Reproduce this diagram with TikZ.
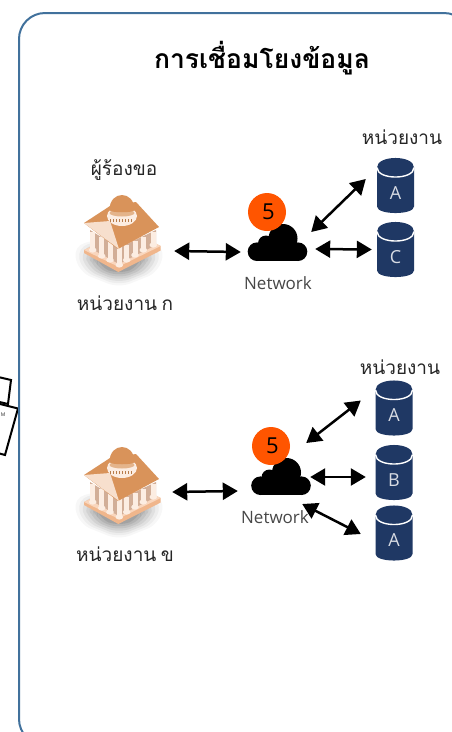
\documentclass[tikz,border=0pt]{standalone}
\usepackage{fontspec}
\usetikzlibrary{arrows.meta}
\newfontfamily\thaifont[Script=Thai]{Loma}
\setmainfont{Open Sans}
\definecolor{panelblue}{HTML}{41719C}
\definecolor{navy}{HTML}{1F3864}
\definecolor{badge}{HTML}{FF5500}
\definecolor{roofc}{HTML}{D9935A}
\definecolor{pedc}{HTML}{F7DFCD}
\definecolor{colc}{HTML}{FCEDE2}
\definecolor{basec}{HTML}{F0B68C}
\definecolor{basetop}{HTML}{F9D6BD}
\definecolor{wallc}{HTML}{D2AE97}
\definecolor{textc}{HTML}{262626}
\tikzset{
  x=1pt,y=-1pt,
  panel/.style={draw=panelblue,line width=2pt,rounded corners=26pt,fill=white},
  biarrow/.style={draw=black,line width=2.5pt,{Triangle[length=15pt,width=17pt]}-{Triangle[length=15pt,width=17pt]}},
  thaitext/.style={font=\thaifont\fontsize{19}{22}\selectfont,text=textc,inner sep=0pt},
  titletext/.style={font=\thaifont\bfseries\fontsize{26.5}{30}\selectfont,text=black,inner sep=0pt},
  nettext/.style={font=\fontsize{17}{20}\selectfont,text=textc!85,inner sep=0pt},
  dbbox/.style={inner sep=0pt,minimum width=37pt,minimum height=55pt,text=white!82!navy,font=\fontsize{18}{20}\selectfont},
  cloudbox/.style={inner sep=0pt,minimum width=60pt,minimum height=37pt},
  bldgbox/.style={inner sep=0pt,minimum width=78pt,minimum height=86pt},
  badgenode/.style={circle,fill=badge,minimum size=38pt,inner sep=0pt,text=black,font=\fontsize{22}{24}\selectfont},
  stray/.style={draw=black,line width=2pt,fill=white},
  pics/dbshape/.style={code={
    \fill[navy] (-18.5,-18) .. controls (-18.5,-30.7) and (18.5,-30.7) .. (18.5,-18)
      -- (18.5,21) .. controls (18.5,29.7) and (-18.5,29.7) .. (-18.5,21) -- cycle;
    \draw[white,line width=1.4pt] (-18.5,-18) .. controls (-18.5,-5.3) and (18.5,-5.3) .. (18.5,-18);
  }},
  pics/cloudshape/.style={code={
    \fill[black] (-20,9.2) circle[radius=9.3];
    \fill[black] (-11,1) circle[radius=8];
    \fill[black] (6,-4) circle[radius=14.5];
    \fill[black] (21,9.2) circle[radius=9.3];
    \fill[black] (-20,0) rectangle (21,18.5);
  }},
  pics/bldgshape/.style={code={
    \foreach \s/\o in {1.00/.03,.92/.04,.84/.05,.76/.06,.68/.07,.60/.08,.52/.09}{
      \fill[black,opacity=\o,rounded corners=12pt,shift={(-3,20)},scale=\s] (-46,-14) -- (0,-26) -- (46,-14) -- (40,12) -- (0,28) -- (-40,12) -- cycle;
    }
    \fill[basec] (-38,10) -- (4.7,-10) -- (38.7,6) -- (38.7,10.5) -- (-3.7,32) -- (-38,13) -- cycle;
    \fill[basetop] (-38,10) -- (4.7,-10) -- (38.7,6) -- (-3.7,26.7) -- cycle;
    \fill[wallc] (-32,-10) -- (-3,8) -- (34,-10) -- (34,5) -- (-3,24) -- (-32,8) -- cycle;
    \foreach \a/\b/\c in {-29.3/-8/10,-20.3/-3/16,-12/2/20,-2.7/7/25,4.7/5/20,13/.7/15,21.3/-3.3/10,31.3/-8.3/5}{
      \fill[colc] (\a-2.5,\b) rectangle (\a+2.5,\c);
      \fill[colc] (\a,\c) ellipse[x radius=3.8,y radius=2.6];
    }
    \fill[roofc] (-38,-17) -- (-12,-34) -- (14,-38) -- (37,-13) -- (-4,9) -- cycle;
    \fill[pedc] (-38,-17) -- (-12,-19) -- (-3,9) -- cycle;
    \fill[colc] (0,-24) ellipse[x radius=15,y radius=10];
    \foreach \a in {-12,-9,-6,-3,0,3,6,9}{
      \fill[roofc!85!black] (\a,-21.5) rectangle (\a+1.3,-18);
    }
    \fill[roofc!70!white] (0,-27) ellipse[x radius=12.5,y radius=3.5];
    \fill[roofc] (-12.5,-30) .. controls (-12.5,-50) and (12.5,-50) .. (12.5,-30)
       .. controls (12.5,-27) and (-12.5,-27) .. (-12.5,-30) -- cycle;
  }}
}
\begin{document}
\begin{tikzpicture}
\useasboundingbox (0,0) rectangle (452,732);
\begin{scope}
\clip (0,0) rectangle (452,732);
\filldraw[stray] (-6,376) -- (11,380) -- (8,404) -- (-9,400) -- cycle;
\filldraw[stray] (-4,403) -- (18,408.5) -- (5,455) -- (-17,449) -- cycle;
\node[font=\fontsize{5}{6}\selectfont,text=textc,inner sep=0pt] (strayM) at (3.2,415) {M};
\path[panel] (19,745) -- (19,13) -- (470,13) -- (470,745) -- cycle;
\end{scope}

\node[titletext] (title) at (262,58) {การเชื่อมโยงข้อมูล};

% upper group
\pic at (122,240) {bldgshape};
\node[bldgbox] (bldgK) at (122,237) {};
\node[thaitext] (req) at (124,170) {ผู้ร้องขอ};
\node[thaitext] (orgK) at (125,303) {หน่วยงาน\kern-2pt\ ก};
\pic at (277,242.5) {cloudshape};
\node[cloudbox] (cloudK) at (277,242.5) {};
\node[badgenode] (badgeK) at (267,212) {\raisebox{-2pt}{\kern3pt 5}};
\node[nettext] (netK) at (278,283) {Network};
\node[thaitext] (orgT1) at (402,137) {หน่วยงาน};
\pic at (395.5,185.5) {dbshape};
\node[dbbox] (dbA1) at (395.5,193) {A};
\pic at (395.5,249.5) {dbshape};
\node[dbbox] (dbC1) at (395.5,257) {C};

% lower group
\pic at (122,492) {bldgshape};
\node[bldgbox] (bldgG) at (122,489) {};
\node[thaitext] (orgG) at (125,554) {หน่วยงาน\kern-2pt\ ข};
\pic at (280.5,476.5) {cloudshape};
\node[cloudbox] (cloudG) at (280.5,476.5) {};
\node[badgenode] (badgeG) at (271,446) {\raisebox{-2pt}{\kern3pt 5}};
\node[nettext] (netG) at (275,517) {Network};
\node[thaitext] (orgT2) at (400,367) {หน่วยงาน};
\pic at (394,408) {dbshape};
\node[dbbox] (dbA2) at (394,415.5) {A};
\pic at (394,472.5) {dbshape};
\node[dbbox] (dbB2) at (394,480) {B};
\pic at (394,533) {dbshape};
\node[dbbox] (dbA3) at (394,540.5) {A};

% connectors
\draw[biarrow] ([shift={(13,14)}]bldgK.east) -- ([shift={(-6,9.5)}]cloudK.west);
\draw[biarrow] ([shift={(4,-10.5)}]cloudK.east) -- ([shift={(-11,-14)}]dbA1.west);
\draw[biarrow] ([shift={(8,6.5)}]cloudK.east) -- ([shift={(-5,-7.5)}]dbC1.west);
\draw[biarrow] ([shift={(11,3)}]bldgG.east) -- ([shift={(-12.5,14.5)}]cloudG.west);
\draw[biarrow] ([shift={(-4.5,-33.5)}]cloudG.east) -- ([shift={(-14.5,-15)}]dbA2.west);
\draw[biarrow] ([shift={(-0.5,0.5)}]cloudG.east) -- ([shift={(-9.5,-3)}]dbB2.west);
\draw[biarrow] ([shift={(-8.5,27.5)}]cloudG.east) -- ([shift={(-14.5,-6.5)}]dbA3.west);
\end{tikzpicture}
\end{document}
